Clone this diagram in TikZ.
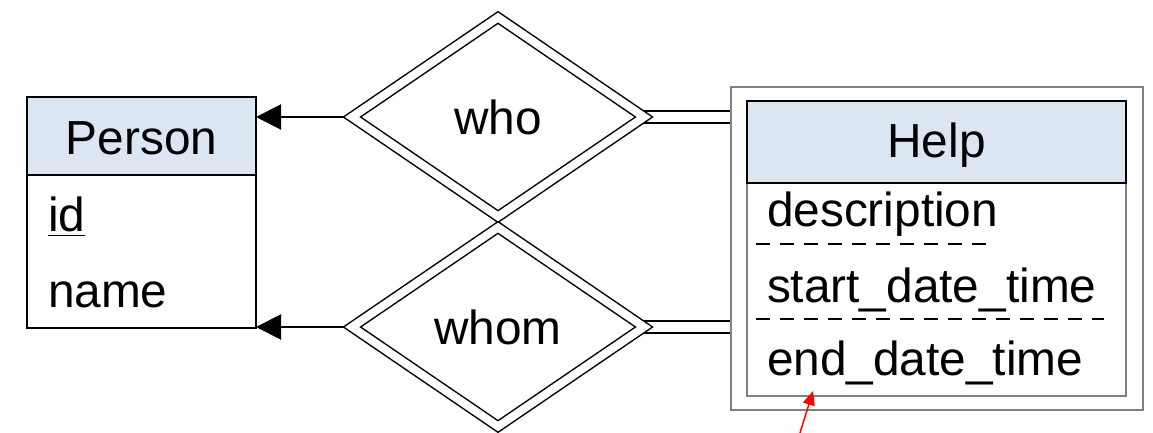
\documentclass[tikz,border=0pt]{standalone}
\usepackage{fontspec}
\setmainfont{Liberation Sans}
\usetikzlibrary{shapes.geometric,arrows.meta,backgrounds}
\definecolor{headblue}{HTML}{DCE6F2}
\definecolor{framegray}{HTML}{808080}
\begin{document}
\begin{tikzpicture}[x=0.5pt,y=-0.5pt,
  txt/.style={font=\fontsize{23.9pt}{28pt}\selectfont, inner sep=0pt, outer sep=0pt},
  box/.style={inner sep=0pt, outer sep=0pt, line width=1pt},
  header/.style={box, draw=black, fill=headblue},
  body/.style={box, draw=black, fill=white},
  relation/.style={diamond, txt, draw=black, fill=white, double=white,
    double distance=4pt, line width=0.75pt, minimum width=146pt,
    minimum height=99.5pt},
  attr/.style={txt, anchor=base west},
  partialkey/.style={line width=1.3pt, dash pattern=on 7pt off 5pt},
  tomany/.style={line width=1pt, -{Triangle[length=12.5pt,width=12.5pt]}},
  total/.style={draw=black, double=white, double distance=5.1pt, line width=0.9pt},
]
\useasboundingbox (0,0) rectangle (1153,433);

% Person entity
\node[header, minimum width=114.5pt, minimum height=39pt] (personhead) at (141.5,136) {};
\node[body, minimum width=114.5pt, minimum height=76.5pt] (personbody) at (141.5,251.5) {};
\node[txt, anchor=base] (persontitle) at (141.5,155) {Person};
\node[attr] (pid) at (48,232) {\underline{id}};
\node[attr] (pname) at (48,307) {name};

% Help weak entity
\node[box, draw=framegray, minimum width=206pt, minimum height=161.5pt] (helpframe) at (937,248.5) {};
\node[box, draw=framegray, fill=white, minimum width=189.5pt, minimum height=106.5pt] (helpbody) at (936.5,289.5) {};
\node[header, minimum width=189.5pt, minimum height=41pt] (helphead) at (936.5,142) {};
\node[txt, anchor=base] (helptitle) at (936.5,158) {Help};
\node[attr] (hdesc) at (767,227) {description};
\node[attr] (hstart) at (767,302) {start\_date\_time};
\node[attr] (hend) at (767,375) {end\_date\_time};
\draw[partialkey] (756,244) -- (990,244);
\draw[partialkey] (756,319) -- (1104,319);

% Identifying relationships
\node[relation] (who) at (498,117) {who};
\node[relation] (whom) at (498,327) {whom};

\begin{scope}[on background layer]
  \draw[tomany] (who.center) -- (who.center -| personbody.east);
  \draw[tomany] (whom.center) -- (whom.center -| personbody.east);
  \draw[total] (who.center) -- (who.center -| helpframe.west);
  \draw[total] (whom.center) -- (whom.center -| helpframe.west);
\end{scope}

% Pointer to the last attribute
\coordinate (pointtail) at (800,433);
\coordinate (pointtip) at (813,391);
\draw[red, line width=0.75pt, -{Triangle[length=7pt,width=6pt]}] (pointtail) -- (pointtip);
\end{tikzpicture}
\end{document}
